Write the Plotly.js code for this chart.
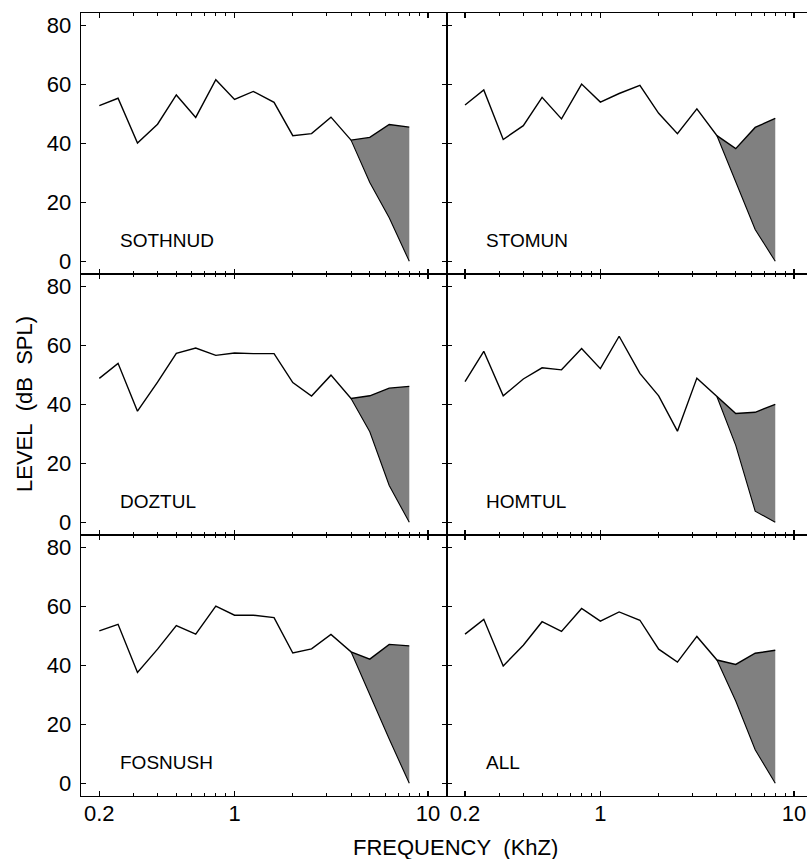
<!DOCTYPE html>
<html>
<head>
<meta charset="utf-8">
<script src="https://cdn.plot.ly/plotly-3.0.1.min.js"></script>
<style>html,body{margin:0;padding:0;background:#fff;}#chart{width:807px;height:859px;}</style>
</head>
<body>
<div id="chart"></div>
<script>
// 1/3-octave band centre frequencies (kHz)
const freqs = [0.2,0.25,0.315,0.4,0.5,0.63,0.8,1,1.25,1.6,2,2.5,3.15,4,5,6.3,8];
// high-frequency bands where the filtered (lower) curve is shown
const hiFreqs = [4,5,6.3,8];

const panelNames = ["SOTHNUD","STOMUN","DOZTUL","HOMTUL","FOSNUSH","ALL"];

const sothnud = [52.8,55.3,40.1,46.5,56.4,48.8,61.6,54.9,57.6,53.9,42.6,43.3,48.9,41.1,42.0,46.4,45.5];
const sothnudLow = [41.1,26.7,14.8,0];
const stomun = [53.0,58.1,41.3,46.0,55.6,48.3,60.1,54.0,56.9,59.7,50.2,43.3,51.7,42.6,38.2,45.4,48.5];
const stomunLow = [42.6,27.0,10.8,0];
const doztul = [48.8,53.9,37.7,47.5,57.3,59.1,56.6,57.4,57.2,57.2,47.4,42.8,49.9,42.0,42.9,45.5,46.1];
const doztulLow = [42.0,30.7,12.5,0];
const homtul = [47.7,58.0,42.9,48.6,52.4,51.7,58.9,52.1,63.1,50.5,42.9,30.9,48.9,42.6,36.9,37.3,40.0];
const homtulLow = [42.6,26.1,3.8,0];
const fosnush = [51.7,53.9,37.6,45.5,53.5,50.6,60.1,57.0,57.0,56.2,44.2,45.6,50.5,44.6,42.1,47.1,46.6];
const fosnushLow = [44.6,30.0,15.0,0];
const allSubj = [50.6,55.6,39.8,46.8,54.8,51.5,59.3,55.0,58.1,55.3,45.5,41.1,49.8,41.8,40.3,44.1,45.1];
const allSubjLow = [41.8,27.9,11.4,0];

const xTickVals = [0.2,1,10];
const xTickText = ["0.2","1","10"];
const xMinorVals = [0.3,0.4,0.5,0.6,0.7,0.8,0.9,2,3,4,5,6,7,8,9];
const yTickVals = [0,20,40,60,80];

const uppers = [sothnud,stomun,doztul,homtul,fosnush,allSubj];
const lowers = [sothnudLow,stomunLow,doztulLow,homtulLow,fosnushLow,allSubjLow];

const FONT = "'Liberation Sans', Arial, Helvetica, sans-serif";
const traces = [];
const layout = {
  width: 807, height: 859,
  margin: {l: 81, r: 0, t: 13, b: 63},
  paper_bgcolor: '#fff', plot_bgcolor: '#fff',
  showlegend: false,
  font: {family: FONT, color: '#000', size: 22},
  annotations: []
};

const splitX = 366/726;
const rowDomains = [[2/3,1],[1/3,2/3],[0,1/3]];

for (let i = 0; i < 6; i++) {
  const row = Math.floor(i/2), col = i % 2;
  const n = i + 1;
  const xa = n === 1 ? 'x' : 'x' + n;
  const ya = n === 1 ? 'y' : 'y' + n;
  const up = uppers[i];
  const hiUpper = up.slice(freqs.indexOf(4));

  traces.push({x: hiFreqs, y: lowers[i], xaxis: xa, yaxis: ya, mode: 'lines',
    line: {width: 0, color: 'rgba(0,0,0,0)'}, hoverinfo: 'skip'});
  traces.push({x: hiFreqs, y: hiUpper, xaxis: xa, yaxis: ya, mode: 'lines',
    fill: 'tonexty', fillcolor: '#808080', line: {width: 0, color: 'rgba(0,0,0,0)'}, hoverinfo: 'skip'});
  traces.push({x: freqs, y: up, xaxis: xa, yaxis: ya, mode: 'lines',
    line: {width: 1.4, color: '#000'}});
  traces.push({x: hiFreqs, y: lowers[i], xaxis: xa, yaxis: ya, mode: 'lines',
    line: {width: 1.1, color: '#000'}});

  const xRange = col === 0 ? [-0.7936, 1.098] : [-0.792, 1.067];
  layout['xaxis' + (n === 1 ? '' : n)] = {
    type: 'log', domain: col === 0 ? [0, splitX] : [splitX, 1],
    range: xRange, anchor: ya,
    tickmode: 'array', tickvals: xTickVals, ticktext: xTickText,
    ticks: 'inside', ticklen: 5, tickwidth: 1.2, tickcolor: '#000',
    minor: {tickmode: 'array', tickvals: xMinorVals, ticks: 'inside', ticklen: 3, tickwidth: 1, tickcolor: '#000'},
    showline: true, linecolor: '#000', linewidth: 1.3, mirror: 'allticks',
    showgrid: false, zeroline: false,
    showticklabels: row === 2, ticklabelstandoff: -3,
    tickfont: {family: FONT, size: 22, color: '#000'}
  };
  layout['yaxis' + (n === 1 ? '' : n)] = {
    domain: rowDomains[row], range: [-4.3, 84.2], anchor: xa,
    tickmode: 'array', tickvals: yTickVals,
    ticks: 'inside', ticklen: 5, tickwidth: 1.2, tickcolor: '#000',
    showline: true, linecolor: '#000', linewidth: 1.3,
    mirror: col === 0 ? 'allticks' : false,
    showgrid: false, zeroline: false,
    showticklabels: col === 0, ticklabelstandoff: 4,
    tickfont: {family: FONT, size: 22, color: '#000'}
  };
  layout.annotations.push({
    xref: xa, yref: ya, x: Math.log10(0.25), y: 7, xanchor: 'left', yanchor: 'middle',
    text: panelNames[i], showarrow: false, font: {family: FONT, size: 19, color: '#000'}
  });
}

layout.annotations.push({
  xref: 'paper', yref: 'paper', x: (455-81)/726, y: (796-847.5)/783,
  xanchor: 'center', yanchor: 'middle', showarrow: false,
  text: 'FREQUENCY\u00a0\u00a0(KhZ)', font: {family: FONT, size: 22, color: '#000'}
});
layout.annotations.push({
  xref: 'paper', yref: 'paper', x: (24-81)/726, y: (796-404)/783,
  xanchor: 'center', yanchor: 'middle', showarrow: false, textangle: -90,
  text: 'LEVEL\u00a0\u00a0(dB\u00a0\u00a0SPL)', font: {family: FONT, size: 22, color: '#000'}
});

Plotly.newPlot('chart', traces, layout, {staticPlot: true, displayModeBar: false});
</script>
</body>
</html>
